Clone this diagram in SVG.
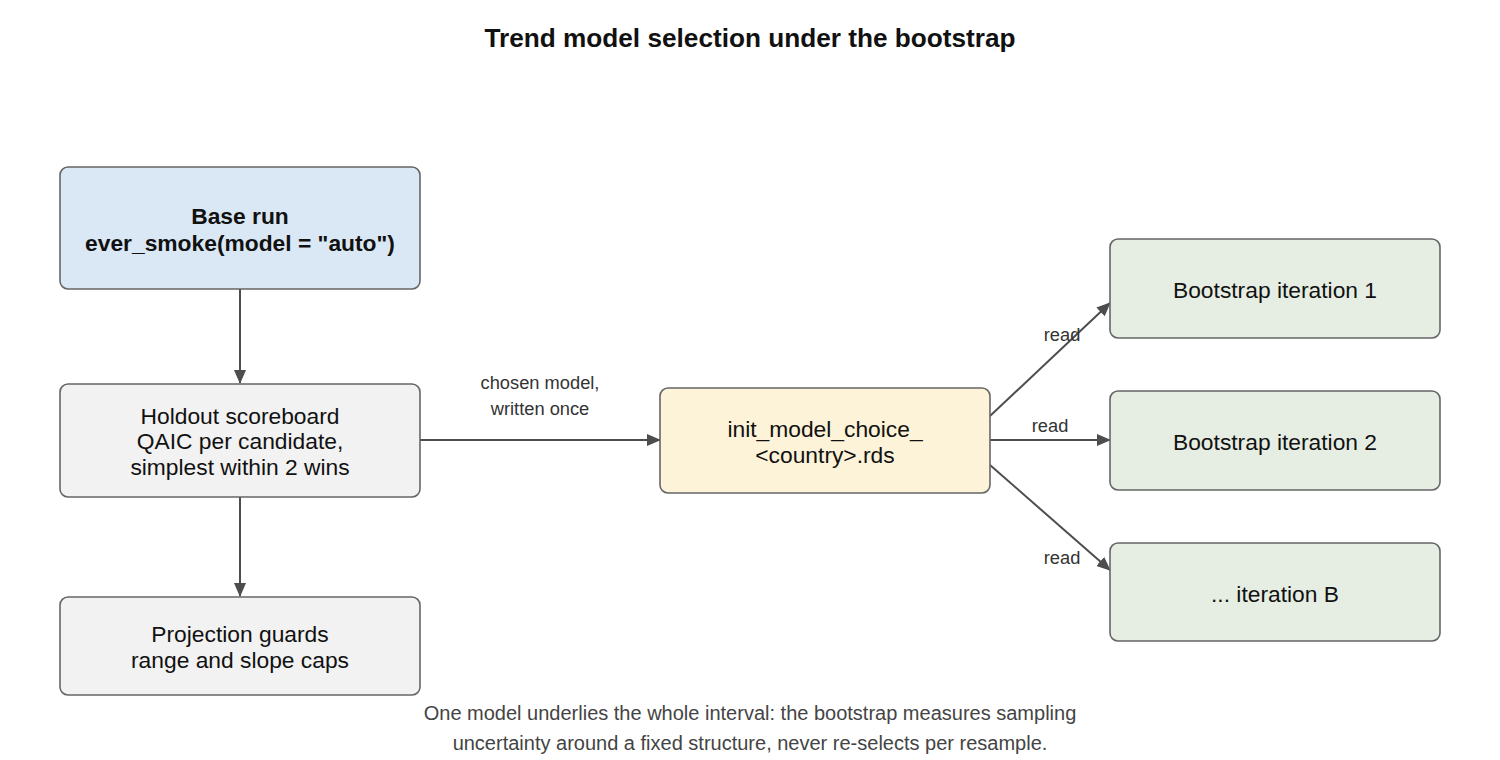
<svg xmlns="http://www.w3.org/2000/svg" width="1500" height="760" viewBox="0 0 1500 760">
<defs>
<marker id="arr" markerWidth="14" markerHeight="12" refX="13" refY="6" orient="auto" markerUnits="userSpaceOnUse">
<path d="M0,0 L14,6 L0,12 Z" fill="#4d4d4d"/>
</marker>
<style>
.node rect{stroke:#666;stroke-width:1.6;}
.nt{font-family:"Liberation Sans",Arial,sans-serif;font-size:22.8px;fill:#111;text-anchor:middle;}
.b{font-weight:bold;}
.edge{stroke:#4d4d4d;stroke-width:2;fill:none;marker-end:url(#arr);}
.el{font-family:"Liberation Sans",Arial,sans-serif;font-size:18.3px;fill:#333;text-anchor:middle;}
.cap{font-family:"Liberation Sans",Arial,sans-serif;font-size:20px;fill:#444;text-anchor:middle;}
</style>
</defs>
<rect width="1500" height="760" fill="#fff"/>
<text x="750" y="47" text-anchor="middle" font-family="Liberation Sans,Arial,sans-serif" font-size="26.2" font-weight="bold" fill="#111">Trend model selection under the bootstrap</text>

<g id="connectors">
<line class="edge" x1="240" y1="289" x2="240" y2="383"/>
<line class="edge" x1="240" y1="497" x2="240" y2="596"/>
<line class="edge" x1="420" y1="440" x2="660" y2="440"/>
<line class="edge" x1="990" y1="416" x2="1110" y2="303"/>
<line class="edge" x1="990" y1="440" x2="1110" y2="440"/>
<line class="edge" x1="990" y1="465" x2="1110" y2="570"/>
<text class="el" x="540" y="389">chosen model,</text>
<text class="el" x="540" y="415">written once</text>
<text class="el" x="1062" y="341">read</text>
<text class="el" x="1050" y="432">read</text>
<text class="el" x="1062" y="564">read</text>
</g>

<g id="base" class="node">
<rect x="60" y="167" width="360" height="122" rx="8" fill="#dae8f5"/>
<text class="nt b" x="240" y="224">Base run</text>
<text class="nt b" x="240" y="251">ever_smoke(model = "auto")</text>
</g>
<g id="holdout" class="node">
<rect x="60" y="384" width="360" height="113" rx="8" fill="#f2f2f2"/>
<text class="nt" x="240" y="424">Holdout scoreboard</text>
<text class="nt" x="240" y="449">QAIC per candidate,</text>
<text class="nt" x="240" y="475">simplest within 2 wins</text>
</g>
<g id="guards" class="node">
<rect x="60" y="597" width="360" height="98" rx="8" fill="#f2f2f2"/>
<text class="nt" x="240" y="642">Projection guards</text>
<text class="nt" x="240" y="668">range and slope caps</text>
</g>
<g id="init" class="node">
<rect x="660" y="388" width="330" height="105" rx="8" fill="#fdf3d8"/>
<text class="nt" x="825" y="437">init_model_choice_</text>
<text class="nt" x="825" y="463">&lt;country&gt;.rds</text>
</g>
<g id="boot1" class="node">
<rect x="1110" y="239" width="330" height="99" rx="8" fill="#e6eee3"/>
<text class="nt" x="1275" y="298">Bootstrap iteration 1</text>
</g>
<g id="boot2" class="node">
<rect x="1110" y="391" width="330" height="99" rx="8" fill="#e6eee3"/>
<text class="nt" x="1275" y="450">Bootstrap iteration 2</text>
</g>
<g id="bootB" class="node">
<rect x="1110" y="543" width="330" height="98" rx="8" fill="#e6eee3"/>
<text class="nt" x="1275" y="602">... iteration B</text>
</g>

<text class="cap" x="750" y="720">One model underlies the whole interval: the bootstrap measures sampling</text>
<text class="cap" x="750" y="750">uncertainty around a fixed structure, never re-selects per resample.</text>
</svg>
